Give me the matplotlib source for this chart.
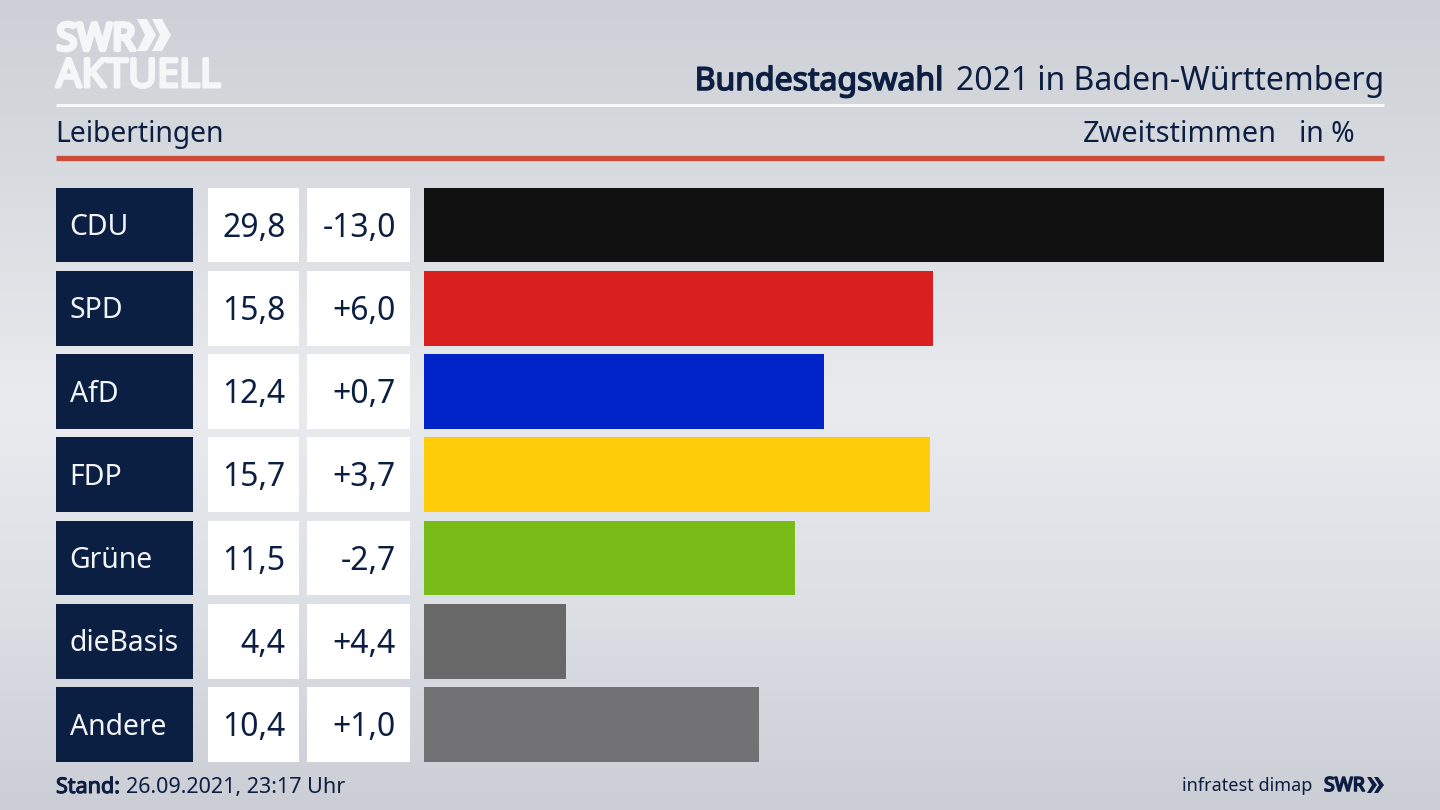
import numpy as np
import matplotlib
matplotlib.use("Agg")
import matplotlib.pyplot as plt
import matplotlib.patheffects as pe
from matplotlib.colors import LinearSegmentedColormap
from matplotlib.patches import Polygon

parties = ["CDU", "SPD", "AfD", "FDP", "Grüne", "dieBasis", "Andere"]
shares = [29.8, 15.8, 12.4, 15.7, 11.5, 4.4, 10.4]
changes = ["-13,0", "+6,0", "+0,7", "+3,7", "-2,7", "+4,4", "+1,0"]
bar_colors = ["#111111", "#d9201e", "#0024c8", "#ffcc0a", "#79bc1a", "#686868", "#727274"]

W, H = 1440, 810
NAVY = "#0c1f42"
LOGO = "#f5f6f7"
plt.rcParams["font.family"] = ["Noto Sans", "DejaVu Sans"]
fig = plt.figure(figsize=(W / 100, H / 100), dpi=100)


def axes_px(x0, y0, x1, y1, **kw):
    return fig.add_axes([x0 / W, 1 - y1 / H, (x1 - x0) / W, (y1 - y0) / H], **kw)


def heavy(color, width):
    return [pe.withStroke(linewidth=width, foreground=color)]


# full-canvas layer in pixel coordinates
bg = axes_px(0, 0, W, H)
bg.set_xlim(0, W)
bg.set_ylim(H, 0)
bg.axis("off")
cmap = LinearSegmentedColormap.from_list(
    "bg", [(0, "#cdd0d6"), (0.2, "#d7dade"), (0.5, "#e9ebef"), (0.75, "#dcdfe4"), (1, "#cbced5")]
)
bg.imshow(np.linspace(0, 1, 256)[:, None], aspect="auto", cmap=cmap, extent=(0, W, H, 0), zorder=0)

# header
bg.plot([56, 1384], [105, 105], color="#f7f8f9", lw=2.2, solid_capstyle="butt")
bg.plot([56, 1384], [157.5, 157.5], color="#cc4b3a", lw=3.8, solid_capstyle="butt")
bg.text(56.5, 50, "SWR", color=LOGO, fontsize=27, va="baseline", path_effects=heavy(LOGO, 3.0))
bg.text(56, 87, "AKTUELL", color=LOGO, fontsize=28.6, va="baseline", path_effects=heavy(LOGO, 2.2))
for dx in (0, 15):
    bg.add_patch(Polygon([[137 + dx, 19], [147 + dx, 19], [156 + dx, 35], [147 + dx, 51], [137 + dx, 51], [145 + dx, 35]],
                         color=LOGO, lw=0))
bg.text(944, 90, "Bundestagswahl", color=NAVY, fontsize=23, ha="right", va="baseline", path_effects=heavy(NAVY, 1.1))
bg.text(1384, 90, "2021 in Baden-Württemberg", color=NAVY, fontsize=23, ha="right", va="baseline")
bg.text(55.5, 142, "Leibertingen", color=NAVY, fontsize=20.4, va="baseline")
bg.text(1277, 142, "Zweitstimmen", color=NAVY, fontsize=20.8, ha="right", va="baseline")
bg.text(1355, 142, "in %", color=NAVY, fontsize=20.4, ha="right", va="baseline")

# footer
bg.text(56, 793, "Stand:", color=NAVY, fontsize=15.5, va="baseline", path_effects=heavy(NAVY, 0.8))
bg.text(126, 793, "26.09.2021, 23:17 Uhr", color=NAVY, fontsize=15.5, va="baseline")
bg.text(1312, 791, "infratest dimap", color=NAVY, fontsize=13, ha="right", va="baseline")
bg.text(1324, 791, "SWR", color=NAVY, fontsize=14, va="baseline", path_effects=heavy(NAVY, 1.2))
for dx in (0, 7):
    bg.add_patch(Polygon([[1367 + dx, 777], [1371 + dx, 777], [1377 + dx, 785], [1371 + dx, 793], [1367 + dx, 793], [1372 + dx, 785]],
                         color=NAVY, lw=0))

y = np.arange(len(parties))
TOP, BOTTOM = 187.5, 762
H_BAR = 0.9
YLIM = (len(parties) - 1 + H_BAR / 2, -H_BAR / 2)


def column(x0, x1, color):
    ax = axes_px(x0, TOP, x1, BOTTOM)
    ax.patch.set_alpha(0)
    ax.axis("off")
    ax.barh(y, [x1 - x0] * len(y), left=0, height=H_BAR, color=color, lw=0)
    ax.set_xlim(0, x1 - x0)
    ax.set_ylim(*YLIM)
    return ax


names = column(56, 193, "#0a1f42")
vals = column(208, 299, "#ffffff")
chg = column(307, 410, "#ffffff")
for i in y:
    names.text(13.5, i - 0.01, parties[i], color="#f2f4f7", fontsize=20.4, va="center_baseline", ha="left")
    vals.text(77.5, i - 0.01, f"{shares[i]:.1f}".replace(".", ","), color=NAVY, fontsize=23, va="center_baseline", ha="right")
    chg.text(89, i - 0.01, changes[i], color=NAVY, fontsize=23, va="center_baseline", ha="right")

bars = axes_px(424.2, TOP, 1384, BOTTOM)
bars.patch.set_alpha(0)
bars.axis("off")
bars.barh(y, shares, height=H_BAR, color=bar_colors, lw=0)
bars.set_xlim(0, max(shares))
bars.set_ylim(*YLIM)

fig.savefig("out.png", dpi=100)
